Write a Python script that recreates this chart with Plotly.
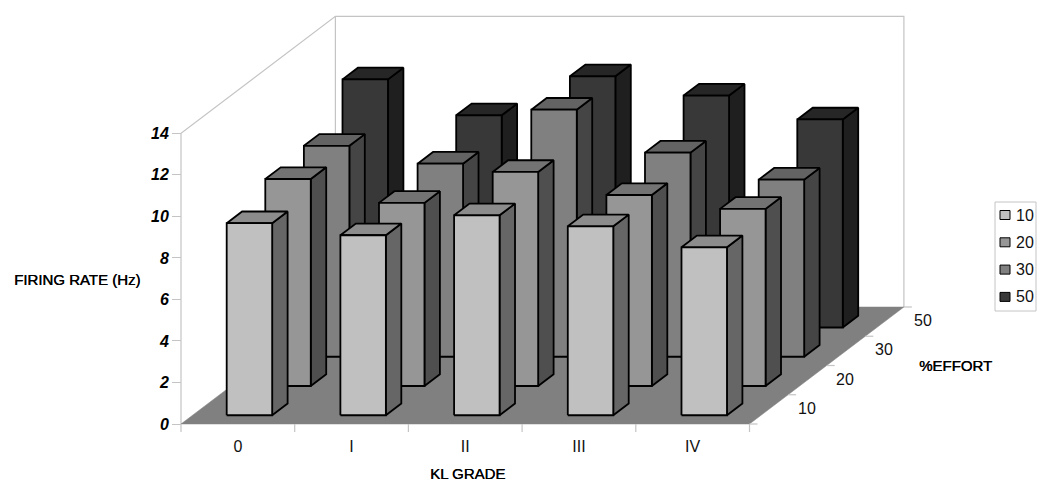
import plotly.graph_objects as go

# ---- data ----
categories = ["0", "I", "II", "III", "IV"]
efforts = ["10", "20", "30", "50"]
effort_10 = [9.25, 8.67, 9.63, 9.10, 8.09]
effort_20 = [9.97, 8.82, 10.31, 9.20, 8.53]
effort_30 = [10.16, 9.30, 11.90, 9.83, 8.53]
effort_50 = [11.95, 10.22, 12.10, 11.17, 10.02]
y_ticks = [0, 2, 4, 6, 8, 10, 12, 14]

series = [effort_10, effort_20, effort_30, effort_50]
face_col = ["#c0c0c0", "#969696", "#808080", "#383838"]
top_col = ["#8c8c8c", "#737373", "#636363", "#262626"]
side_col = ["#666666", "#4f4f4f", "#454545", "#1f1f1f"]

# ---- oblique projection of the depth axis onto the 2D axes ----
OFF = 8                    # the page body margin
W, H = 1050 - OFF, 494 - OFF
X0, Y0 = 181 - OFF, 424 - OFF   # figure pixel of the origin
PX_CAT, PX_VAL = 113.7, 20.76
SX, SY = 38.6 / PX_CAT, 29.25 / PX_VAL   # shift per depth row
INSET, BAR = 0.3, 0.4
NC, NR, VMAX = len(categories), len(efforts), y_ticks[-1]
GRID = "#c4c4c4"


def proj(c, r, v):
    return c + r * SX, v + r * SY


def poly(points):
    xs, ys = zip(*[proj(*p) for p in points])
    return list(xs) + [xs[0], None], list(ys) + [ys[0], None]


def px(x):
    return (x - OFF) / W


def py(y):
    return 1 - (y - OFF) / H


fig = go.Figure()


def add_poly(xs, ys, fill, line="black", lw=1.8):
    fig.add_trace(go.Scatter(x=xs, y=ys, mode="lines", fill="toself", fillcolor=fill,
                             line=dict(color=line, width=lw), hoverinfo="skip",
                             showlegend=False))


def add_line(pts):
    xs, ys = zip(*[proj(*p) for p in pts])
    fig.add_trace(go.Scatter(x=xs, y=ys, mode="lines", line=dict(color=GRID, width=1.2),
                             hoverinfo="skip", showlegend=False))


# walls and axis lines
add_line([(0, 0, 0), (0, 0, VMAX), (0, NR, VMAX), (NC, NR, VMAX), (NC, NR, 0)])
add_line([(0, NR, VMAX), (0, NR, 0)])

# floor
fx, fy = poly([(0, 0, 0), (NC, 0, 0), (NC, NR, 0), (0, NR, 0)])
add_poly(fx, fy, "#808080", line="#808080", lw=0.5)

# category ticks (below the front floor edge) and depth ticks (right of it)
TICK_V, TICK_C = 8 / PX_VAL, 8 / PX_CAT
for c in range(NC + 1):
    x, y = proj(c, 0, 0)
    fig.add_trace(go.Scatter(x=[x, x], y=[y, y - TICK_V], mode="lines",
                             line=dict(color=GRID, width=1.2), hoverinfo="skip", showlegend=False))
for r in range(NR + 1):
    x, y = proj(NC, r, 0)
    fig.add_trace(go.Scatter(x=[x, x + TICK_C], y=[y, y], mode="lines",
                             line=dict(color=GRID, width=1.2), hoverinfo="skip", showlegend=False))

# bars, back row first
for r in reversed(range(NR)):
    side, top, face = ([], []), ([], []), ([], [])
    for c, v in enumerate(series[r]):
        a, b = c + INSET, c + INSET + BAR
        p, q = r + INSET, r + INSET + BAR
        for store, pts in (
            (side, [(b, p, 0), (b, q, 0), (b, q, v), (b, p, v)]),
            (top, [(a, p, v), (b, p, v), (b, q, v), (a, q, v)]),
            (face, [(a, p, 0), (b, p, 0), (b, p, v), (a, p, v)]),
        ):
            xs, ys = poly(pts)
            store[0].extend(xs)
            store[1].extend(ys)
    add_poly(*side, side_col[r])
    add_poly(*top, top_col[r])
    add_poly(*face, face_col[r])

# depth labels
for r, name in enumerate(efforts):
    x, y = proj(NC, r + 0.5, 0)
    fig.add_annotation(x=x, y=y, text=name, showarrow=False, xshift=38, yshift=1,
                       font=dict(family="Liberation Sans", size=16, color="#111"))

# titles
TITLE = dict(family="Liberation Sans", size=15, color="black", shadow="0.4px 0 0 #000")
for text, tx, ty in (("FIRING RATE (Hz)", 77, 279), ("KL GRADE", 467, 473), ("%EFFORT", 955, 365)):
    fig.add_annotation(x=px(tx), y=py(ty), xref="paper", yref="paper", text=text,
                       showarrow=False, xanchor="center", yanchor="middle", font=TITLE)

# legend box
fig.add_shape(type="rect", xref="paper", yref="paper", x0=px(995), x1=px(1036), y0=py(202), y1=py(311),
              line=dict(color=GRID, width=1), fillcolor="white")
for i, name in enumerate(efforts):
    yc = 215 + 27.3 * i
    fig.add_shape(type="rect", xref="paper", yref="paper", x0=px(1000), x1=px(1010),
                  y0=py(yc - 4.5), y1=py(yc + 4.5), line=dict(color="black", width=1),
                  fillcolor=face_col[i])
    fig.add_annotation(x=px(1014), y=py(yc), xref="paper", yref="paper", text=name, showarrow=False,
                       xanchor="left", yanchor="middle",
                       font=dict(family="Liberation Sans", size=16, color="#111"))

fig.update_layout(
    width=W, height=H, margin=dict(l=0, r=0, t=0, b=0), showlegend=False,
    paper_bgcolor="white", plot_bgcolor="white",
    font=dict(family="Liberation Sans", color="black"),
    xaxis=dict(range=[-X0 / PX_CAT, (W - X0) / PX_CAT], showgrid=False, zeroline=False,
               showline=False, anchor="free", position=1 - Y0 / H,
               tickmode="array", tickvals=[c + 0.5 for c in range(NC)], ticktext=categories,
               ticks="outside", ticklen=8, tickcolor="rgba(0,0,0,0)",
               tickfont=dict(family="Liberation Sans", size=16, color="#111"), fixedrange=True),
    yaxis=dict(range=[(Y0 - H) / PX_VAL, Y0 / PX_VAL], showgrid=False, zeroline=False,
               showline=False, anchor="free", position=X0 / W,
               tickmode="array", tickvals=y_ticks,
               ticks="outside", ticklen=9, tickcolor=GRID, tickwidth=1.2,
               tickfont=dict(family="Liberation Sans", size=16, color="black",
                             weight="bold", style="italic"), fixedrange=True),
)

fig.write_html("out.html")
